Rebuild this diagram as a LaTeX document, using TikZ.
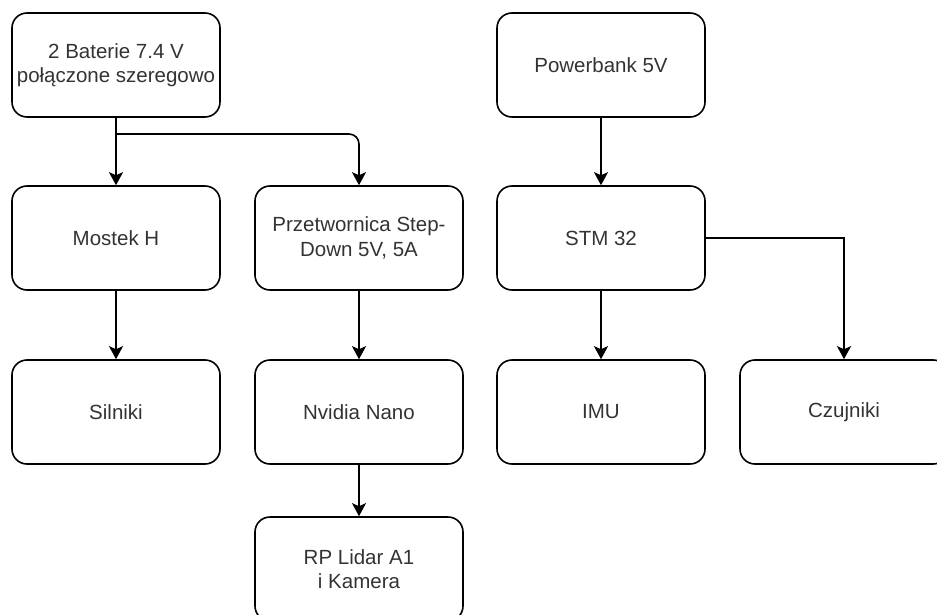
\documentclass[tikz,border=0pt]{standalone}
\usepackage{fontspec}
\setmainfont{Liberation Sans}
\usetikzlibrary{arrows.meta}

\tikzset{
	block/.style={draw, rounded corners=15pt, line width=1.6pt, minimum width=208pt, minimum height=104pt, align=center, text=black!80, font=\fontsize{20.5}{24.5}\selectfont},
	arr/.style={-{Stealth[length=13pt, width=14pt, inset=3pt]}, line width=1.6pt}
}

\begin{document}
\begin{tikzpicture}[x=1pt, y=-1pt]
	\useasboundingbox (0,0) rectangle (937,615);
	
	%power sources
	\node[block] (bat) at (116,65){2 Baterie 7.4 V\\połączone szeregowo};
	\node[block] (pbank) at (601,65){Powerbank 5V};
	
	%second level
	\node[block] (mostek) at (116,238){Mostek H};
	\node[block] (przetw) at (359,238){Przetwornica Step-\\Down 5V, 5A};
	\node[block] (stm) at (601,238){STM 32};
	
	%third level
	\node[block] (silniki) at (116,412){Silniki};
	\node[block] (nvidia) at (359,412){Nvidia Nano};
	\node[block] (imu) at (601,412){IMU};
	\node[block] (czujniki) at (844,412){Czujniki};
	
	%last level
	\node[block] (lidar) at (359,569){RP Lidar A1\\i Kamera};
	
	%connections
	\coordinate (split) at (116,134);
	\draw[arr] (bat.south) -- (mostek.north);
	\draw[arr, rounded corners=10pt] (split) -| (przetw.north);
	\draw[arr] (mostek.south) -- (silniki.north);
	\draw[arr] (przetw.south) -- (nvidia.north);
	\draw[arr] (nvidia.south) -- (lidar.north);
	\draw[arr] (pbank.south) -- (stm.north);
	\draw[arr] (stm.south) -- (imu.north);
	\draw[arr] (stm.east) -| (czujniki.north);
	
\end{tikzpicture}
\end{document}
